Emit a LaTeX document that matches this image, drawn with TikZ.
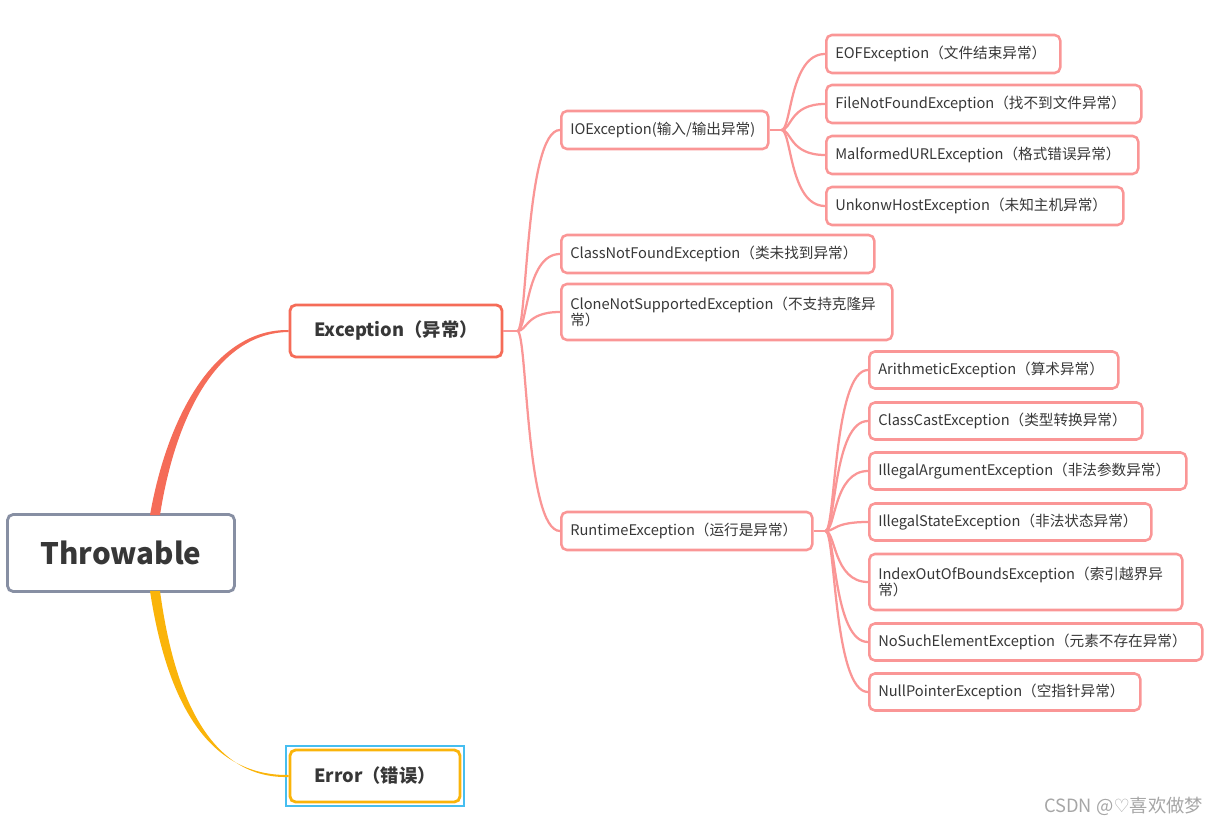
\documentclass[tikz,border=0pt]{standalone}
\usepackage{fontspec}
\setmainfont{Noto Sans CJK SC}
\newfontfamily\symfont{DejaVu Sans}
\usetikzlibrary{calc, positioning}

\definecolor{pinkline}{RGB}{250,150,150}
\definecolor{exccol}{RGB}{245,108,88}
\definecolor{errcol}{RGB}{250,180,10}
\definecolor{rootcol}{RGB}{135,143,163}
\definecolor{txtcol}{RGB}{55,55,55}
\definecolor{selcol}{RGB}{70,190,240}
\newcommand{\pw}[1]{#1*0.025cm}

\tikzset{
  leaf/.style 2 args={draw=pinkline, line width=1.8pt, rounded corners=4pt,
    anchor=west, align=left, text=txtcol, font=\fontsize{10.4}{12}\selectfont,
    minimum width=\pw{#1}, minimum height=\pw{#2}, text width=\pw{#1}-\pw{18},
    inner xsep=\pw{8}, inner ysep=\pw{3}},
  branch/.style={draw=pinkline, line width=1.6pt,
    to path={.. controls ($(\tikztostart)+(\pw{10},0)$) and
      ($(\tikztostart |- \tikztotarget)+(\pw{8},0)$) .. (\tikztotarget)}},
}

\begin{document}
\begin{tikzpicture}[x=0.025cm, y=-0.025cm]
  \useasboundingbox (0,0) rectangle (1212,826);

  % main nodes
  \node[draw=rootcol, line width=2pt, rounded corners=4pt, minimum width=\pw{227},
    minimum height=\pw{77}, text=txtcol, font=\fontsize{21}{24}\selectfont\bfseries]
    (thr) at (121,553) {Throwable};
  \node[draw=exccol, line width=2pt, rounded corners=4pt, minimum width=\pw{212},
    minimum height=\pw{52}, text=txtcol, font=\fontsize{13}{15}\selectfont\bfseries]
    (exc) at (396,331) {Exception（异常）};
  \node[draw=selcol, line width=0.8pt, minimum width=\pw{178}, minimum height=\pw{60}]
    (sel) at (375,776) {};
  \node[draw=errcol, line width=2pt, rounded corners=4pt, minimum width=\pw{170},
    minimum height=\pw{52}, text=txtcol, font=\fontsize{13}{15}\selectfont\bfseries]
    (err) at (375,776) {Error（错误）};

  % second level
  \node[leaf={207}{38}] (io) at (560,130) {IOException(输入/输出异常)};
  \node[leaf={313}{38}] (cnf) at (560,254) {ClassNotFoundException（类未找到异常）};
  \node[leaf={331}{56}] (cns) at (560,312) {CloneNotSupportedException（不支持克隆异\\常）};
  \node[leaf={251}{38}] (rt) at (560,531) {RuntimeException（运行是异常）};

  % IOException children
  \node[leaf={234}{38}] (eof) at (825,54) {EOFException（文件结束异常）};
  \node[leaf={315}{38}] (fnf) at (825,104) {FileNotFoundException（找不到文件异常）};
  \node[leaf={312}{38}] (mal) at (825,155) {MalformedURLException（格式错误异常）};
  \node[leaf={297}{38}] (unk) at (825,206) {UnkonwHostException（未知主机异常）};

  % RuntimeException children
  \node[leaf={249}{37}] (ari) at (868,370) {ArithmeticException（算术异常）};
  \node[leaf={273}{37}] (cce) at (868,421) {ClassCastException（类型转换异常）};
  \node[leaf={317}{37}] (iae) at (868,471) {IllegalArgumentException（非法参数异常）};
  \node[leaf={282}{37}] (ise) at (868,522) {IllegalStateException（非法状态异常）};
  \node[leaf={313}{56}] (ioob) at (868,582) {IndexOutOfBoundsException（索引越界异\\常）};
  \node[leaf={333}{37}] (nse) at (868,642) {NoSuchElementException（元素不存在异常）};
  \node[leaf={271}{37}] (npe) at (868,692) {NullPointerException（空指针异常）};

  % tapered main branches
  \coordinate (thrtop) at ($(thr.north)+(34,0)$);
  \coordinate (thrbot) at ($(thr.south)+(34,0)$);
  \fill[exccol] ($(thrtop)+(-5,2)$) .. controls ($(thrtop)+(12,-95)$) and ($(exc.west)+(-75,-2)$)
    .. ($(exc.west)+(0,-1)$) -- ($(exc.west)+(0,1)$) .. controls ($(exc.west)+(-72,2)$)
    and ($(thrtop)+(20,-95)$) .. ($(thrtop)+(5,2)$) -- cycle;
  \fill[errcol] ($(thrbot)+(-5,-2)$) .. controls ($(thrbot)+(12,110)$) and ($(err.west)+(-80,0)$)
    .. ($(err.west)+(0,-1)$) -- ($(err.west)+(0,1)$) .. controls ($(err.west)+(-75,3)$)
    and ($(thrbot)+(20,110)$) .. ($(thrbot)+(5,-2)$) -- cycle;

  % pink branches
  \coordinate (excs) at ($(exc.east)+(14,0)$);
  \draw[pinkline, line width=1.6pt] (exc.east) -- (excs);
  \foreach \c in {io, cnf, cns, rt}
    \draw[branch] (excs) to (\c.west);

  \coordinate (ios) at ($(io.east)+(12,0)$);
  \draw[pinkline, line width=1.6pt] (io.east) -- (ios);
  \foreach \c in {eof, fnf, mal, unk}
    \draw[branch] (ios) to (\c.west);

  \coordinate (rts) at ($(rt.east)+(12,0)$);
  \draw[pinkline, line width=1.6pt] (rt.east) -- (rts);
  \foreach \c in {ari, cce, iae, ise, ioob, nse, npe}
    \draw[branch] (rts) to (\c.west);

  \node[anchor=east, text=black!35, font=\fontsize{13}{15}\selectfont] (mark) at (1208,806)
    {CSDN @{\symfont ♡}喜欢做梦};
\end{tikzpicture}
\end{document}
